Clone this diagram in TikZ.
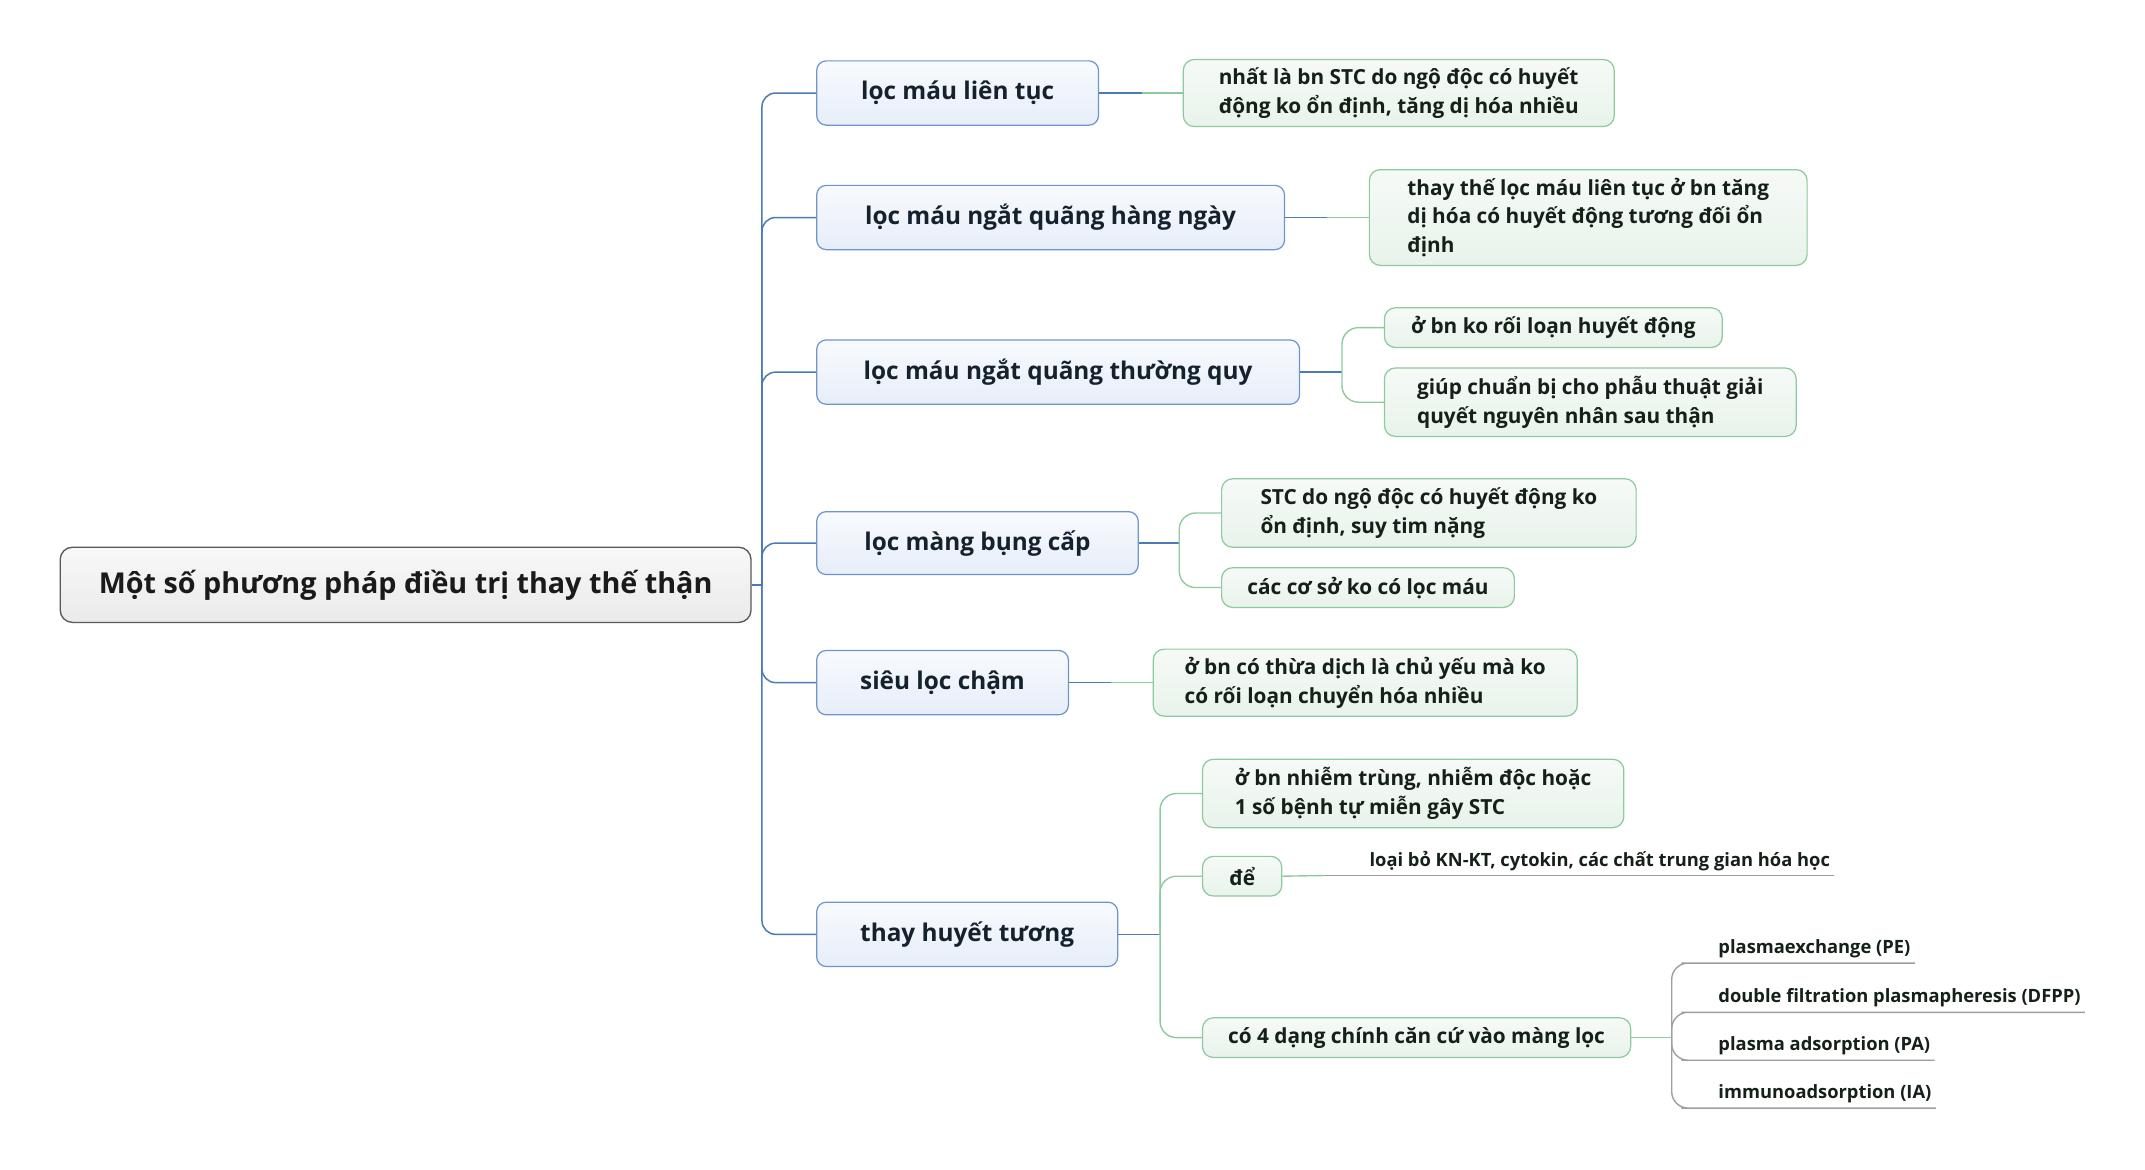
\documentclass[tikz,border=0pt]{standalone}
\usepackage{fontspec}
\setmainfont{Open Sans}
\definecolor{trunkc}{HTML}{4A7BB7}
\definecolor{childbd}{HTML}{6E95CC}
\definecolor{childtop}{HTML}{F8FAFD}
\definecolor{childbot}{HTML}{E7EEF9}
\definecolor{leafbd}{HTML}{8CCB9E}
\definecolor{leaftop}{HTML}{F6FAF7}
\definecolor{leafbot}{HTML}{E8F3EB}
\definecolor{rootbd}{HTML}{5A5A5A}
\definecolor{roottop}{HTML}{F8F8F8}
\definecolor{rootbot}{HTML}{EAEAEA}
\definecolor{greenc}{HTML}{8DCB9F}
\definecolor{grayc}{HTML}{9E9E9E}
\definecolor{txtroot}{HTML}{1A1A1A}
\definecolor{txtchild}{HTML}{15222E}
\definecolor{txtleaf}{HTML}{142018}
\tikzset{
  rootbox/.style={draw=rootbd, line width=1pt, rounded corners=9pt, top color=roottop, bottom color=rootbot,
    inner sep=3pt, font=\fontsize{21}{25}\selectfont\bfseries, text=txtroot},
  childbox/.style={draw=childbd, line width=0.9pt, rounded corners=7pt, top color=childtop, bottom color=childbot,
    inner sep=3pt, font=\fontsize{17.8}{21}\selectfont\bfseries, text=txtchild},
  leafbox/.style={draw=leafbd, line width=0.9pt, rounded corners=8pt, top color=leaftop, bottom color=leafbot,
    inner sep=3pt, align=left, font=\fontsize{15.2}{21}\selectfont\bfseries, text=txtleaf},
  smalltext/.style={inner xsep=3pt, inner ysep=3.5pt, font=\fontsize{13.4}{15}\selectfont\bfseries, text=txtleaf},
  trunkline/.style={draw=trunkc, line width=1.1pt, rounded corners=10pt},
  greenline/.style={draw=greenc, line width=1pt, rounded corners=12pt},
  grayline/.style={draw=grayc, line width=1pt, rounded corners=12pt}
}
\begin{document}
\begin{tikzpicture}[x=1pt,y=-1pt]
\useasboundingbox[fill=white] (0,0) rectangle (1568,855);

% root
\node[rootbox, minimum width=505pt, minimum height=55pt] (root) at (296.5,427.5) {Một số phương pháp điều trị thay thế thận};

% children
\node[childbox, minimum width=206pt, minimum height=47pt] (c1) at (700,68) {lọc máu liên tục};
\node[childbox, minimum width=342pt, minimum height=47pt] (c2) at (768,159) {lọc máu ngắt quãng hàng ngày};
\node[childbox, minimum width=353pt, minimum height=47pt] (c3) at (773.5,272) {lọc máu ngắt quãng thường quy};
\node[childbox, minimum width=235pt, minimum height=46pt] (c4) at (714.5,397) {lọc màng bụng cấp};
\node[childbox, minimum width=184pt, minimum height=47pt] (c5) at (689,499) {siêu lọc chậm};
\node[childbox, minimum width=220pt, minimum height=47pt] (c6) at (707,683) {thay huyết tương};

% leaves
\node[leafbox, minimum width=315pt, minimum height=49pt] (l1) at (1022.5,68) {nhất là bn STC do ngộ độc có huyết\\động ko ổn định, tăng dị hóa nhiều};
\node[leafbox, minimum width=320pt, minimum height=70pt] (l2) at (1161,159) {thay thế lọc máu liên tục ở bn tăng\\dị hóa có huyết động tương đối ổn\\định};
\node[leafbox, minimum width=247pt, minimum height=29pt] (l3a) at (1135.5,239.5) {ở bn ko rối loạn huyết động};
\node[leafbox, minimum width=301pt, minimum height=50pt] (l3b) at (1162.5,294) {giúp chuẩn bị cho phẫu thuật giải\\quyết nguyên nhân sau thận};
\node[leafbox, minimum width=303pt, minimum height=50pt] (l4a) at (1044.5,375) {STC do ngộ độc có huyết động ko\\ổn định, suy tim nặng};
\node[leafbox, minimum width=214pt, minimum height=29pt] (l4b) at (1000,429.5) {các cơ sở ko có lọc máu};
\node[leafbox, minimum width=310pt, minimum height=49pt] (l5) at (998,499) {ở bn có thừa dịch là chủ yếu mà ko\\có rối loạn chuyển hóa nhiều};
\node[leafbox, minimum width=308pt, minimum height=50pt] (l6a) at (1033,580) {ở bn nhiễm trùng, nhiễm độc hoặc\\1 số bệnh tự miễn gây STC};
\node[leafbox, minimum width=58pt, minimum height=29pt] (l6b) at (908,640.5) {để};
\node[leafbox, minimum width=313pt, minimum height=29pt] (l6c) at (1035.5,758.5) {có 4 dạng chính căn cứ vào màng lọc};

% small underlined items
\node[smalltext, anchor=south west] (t6b) at (998,640) {loại bỏ KN-KT, cytokin, các chất trung gian hóa học};
\node[smalltext, anchor=south west] (pe) at (1253,704) {plasmaexchange (PE)};
\node[smalltext, anchor=south west] (dfpp) at (1253,740) {double filtration plasmapheresis (DFPP)};
\node[smalltext, anchor=south west] (pa) at (1253,775) {plasma adsorption (PA)};
\node[smalltext, anchor=south west] (ia) at (1253,810) {immunoadsorption (IA)};

% trunk
\coordinate (hub) at (557,427.5);
\draw[trunkline] (root.east) -- (hub);
\foreach \c in {c1,c2,c3,c4,c5,c6}{
  \draw[trunkline] (hub) |- (\c.west);
}

% child -> leaves
\coordinate (m1) at (835,68);
\draw[trunkline] (c1.east) -- (m1);
\draw[greenline] (m1) -- (l1.west);

\coordinate (m2) at (970,159);
\draw[trunkline] (c2.east) -- (m2);
\draw[greenline] (m2) -- (l2.west);

\coordinate (m3) at (981,272);
\draw[trunkline] (c3.east) -- (m3);
\draw[greenline] (m3) |- (l3a.west);
\draw[greenline] (m3) |- (l3b.west);

\coordinate (m4) at (862,397);
\draw[trunkline] (c4.east) -- (m4);
\draw[greenline] (m4) |- (l4a.west);
\draw[greenline] (m4) |- (l4b.west);

\coordinate (m5) at (812,499);
\draw[trunkline] (c5.east) -- (m5);
\draw[greenline] (m5) -- (l5.west);

\coordinate (m6) at (848,683);
\draw[trunkline] (c6.east) -- (m6);
\draw[greenline] (m6) |- (l6a.west);
\draw[greenline] (m6) |- (l6b.west);
\draw[greenline] (m6) |- (l6c.west);

% de -> underlined text
\coordinate (m6b) at (968,640);
\draw[greenline] (l6b.east) -- (m6b);
\draw[grayline] (m6b) -- (t6b.south west) -- (t6b.south east);

% 4 forms
\coordinate (m6c) at (1222,758.5);
\draw[greenline] (l6c.east) -- (m6c);
\foreach \t in {pe,dfpp,pa,ia}{
  \draw[grayline] (m6c) |- ([xshift=-12pt]\t.south west) -- (\t.south east);
}
\end{tikzpicture}
\end{document}
